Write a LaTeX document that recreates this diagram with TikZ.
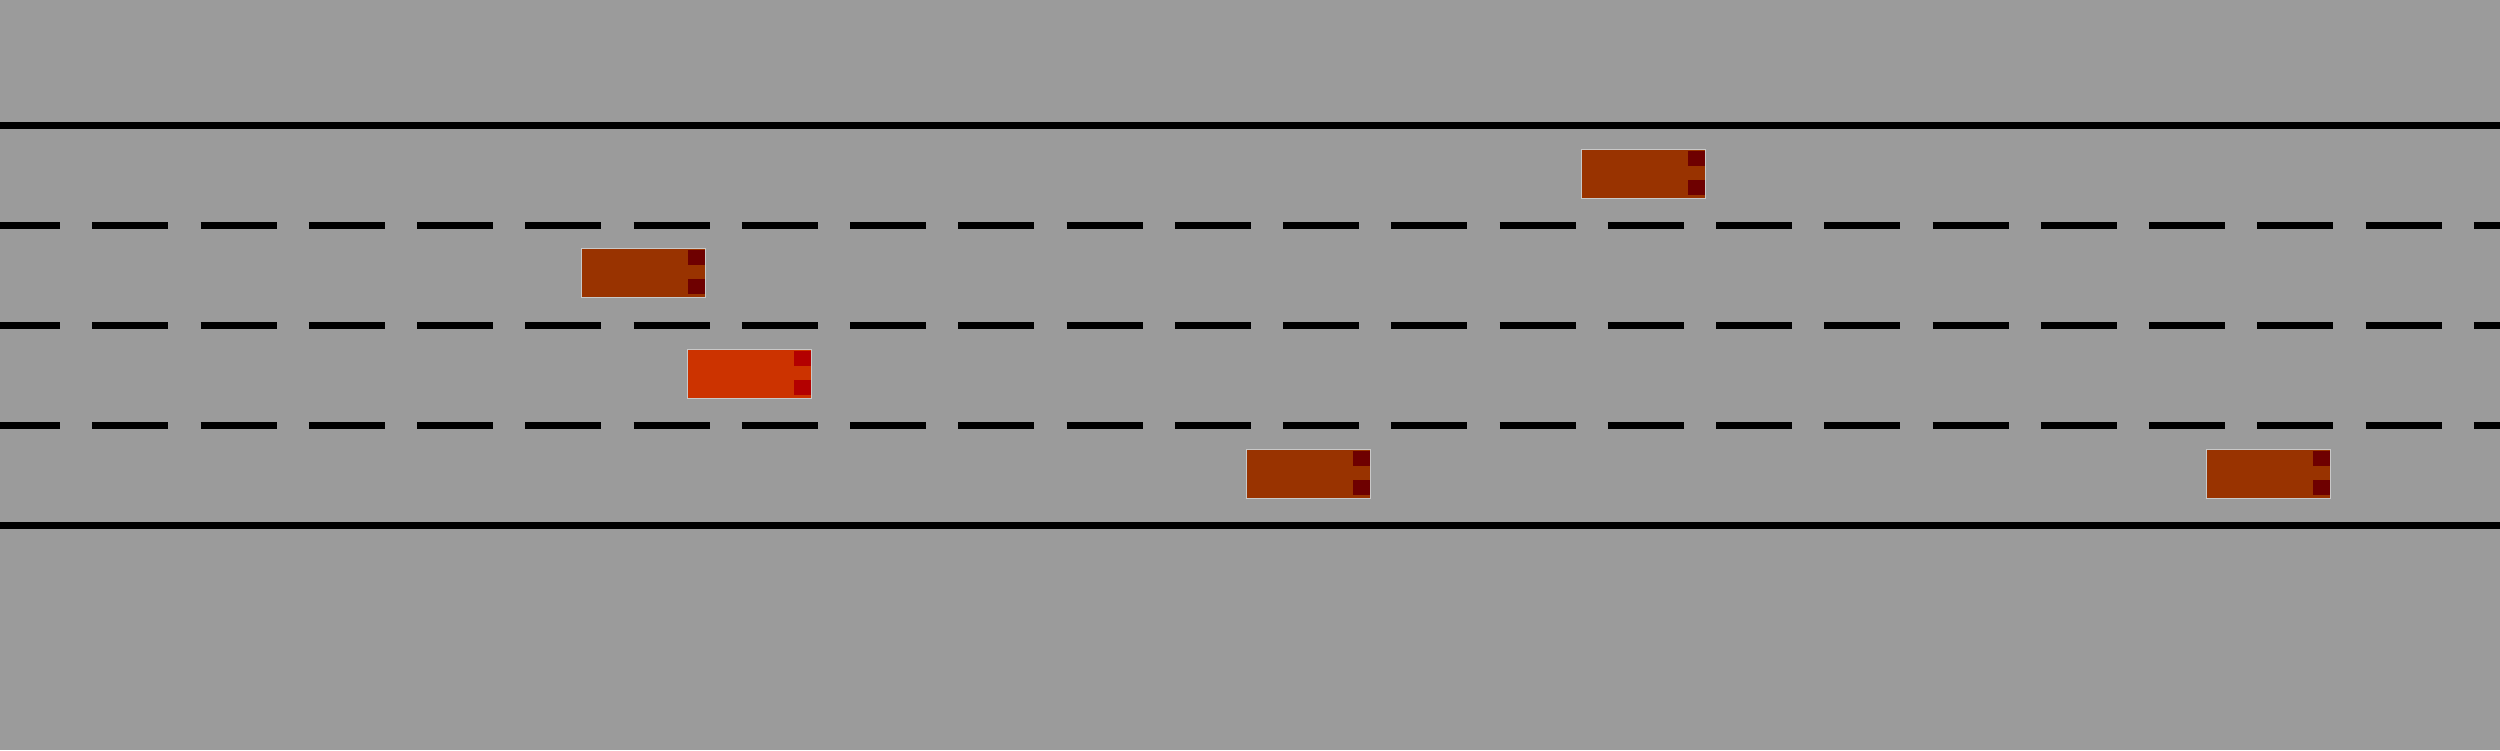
\documentclass[tikz,border=0pt]{standalone}
\definecolor{roadgray}{RGB}{155,155,155}
\definecolor{carbody}{RGB}{153,51,0}
\definecolor{carlight}{RGB}{110,0,0}
\definecolor{egobody}{RGB}{204,51,0}
\definecolor{egolight}{RGB}{179,0,0}
\definecolor{caredge}{RGB}{200,200,200}
\tikzset{
  solidline/.style={line width=7pt, black},
  laneline/.style={line width=7pt, black, dash pattern=on 76pt off 32.25pt, dash phase=16pt},
  carshape/.style={line width=1.2pt, draw=caredge},
}
\newcommand{\drawcar}[4]{%
  \fill[#3, carshape] (#1+0.6,#2+0.6) rectangle (#1+124.4,#2+49.4);
  \fill[#4] (#1+107,#2+2) rectangle (#1+124,#2+17);
  \fill[#4] (#1+107,#2+31) rectangle (#1+124,#2+46);
}
\begin{document}
\begin{tikzpicture}[x=1pt,y=-1pt]
\fill[roadgray] (0,0) rectangle (2500,750);
\useasboundingbox (0,0) rectangle (2500,750);
\coordinate (tl) at (0,125.5);
\coordinate (tr) at (2500,125.5);
\coordinate (bl) at (0,525.5);
\coordinate (br) at (2500,525.5);
\coordinate (d1l) at (0,225.5);
\coordinate (d1r) at (2500,225.5);
\coordinate (d2l) at (0,325.5);
\coordinate (d2r) at (2500,325.5);
\coordinate (d3l) at (0,425.5);
\coordinate (d3r) at (2500,425.5);
\draw[solidline] (tl) -- (tr);
\draw[solidline] (bl) -- (br);
\draw[laneline] (d1l) -- (d1r);
\draw[laneline] (d2l) -- (d2r);
\draw[laneline] (d3l) -- (d3r);
\drawcar{581}{248}{carbody}{carlight}
\drawcar{1581}{149}{carbody}{carlight}
\drawcar{1246}{449}{carbody}{carlight}
\drawcar{2206}{449}{carbody}{carlight}
\drawcar{687}{349}{egobody}{egolight}
\end{tikzpicture}
\end{document}
